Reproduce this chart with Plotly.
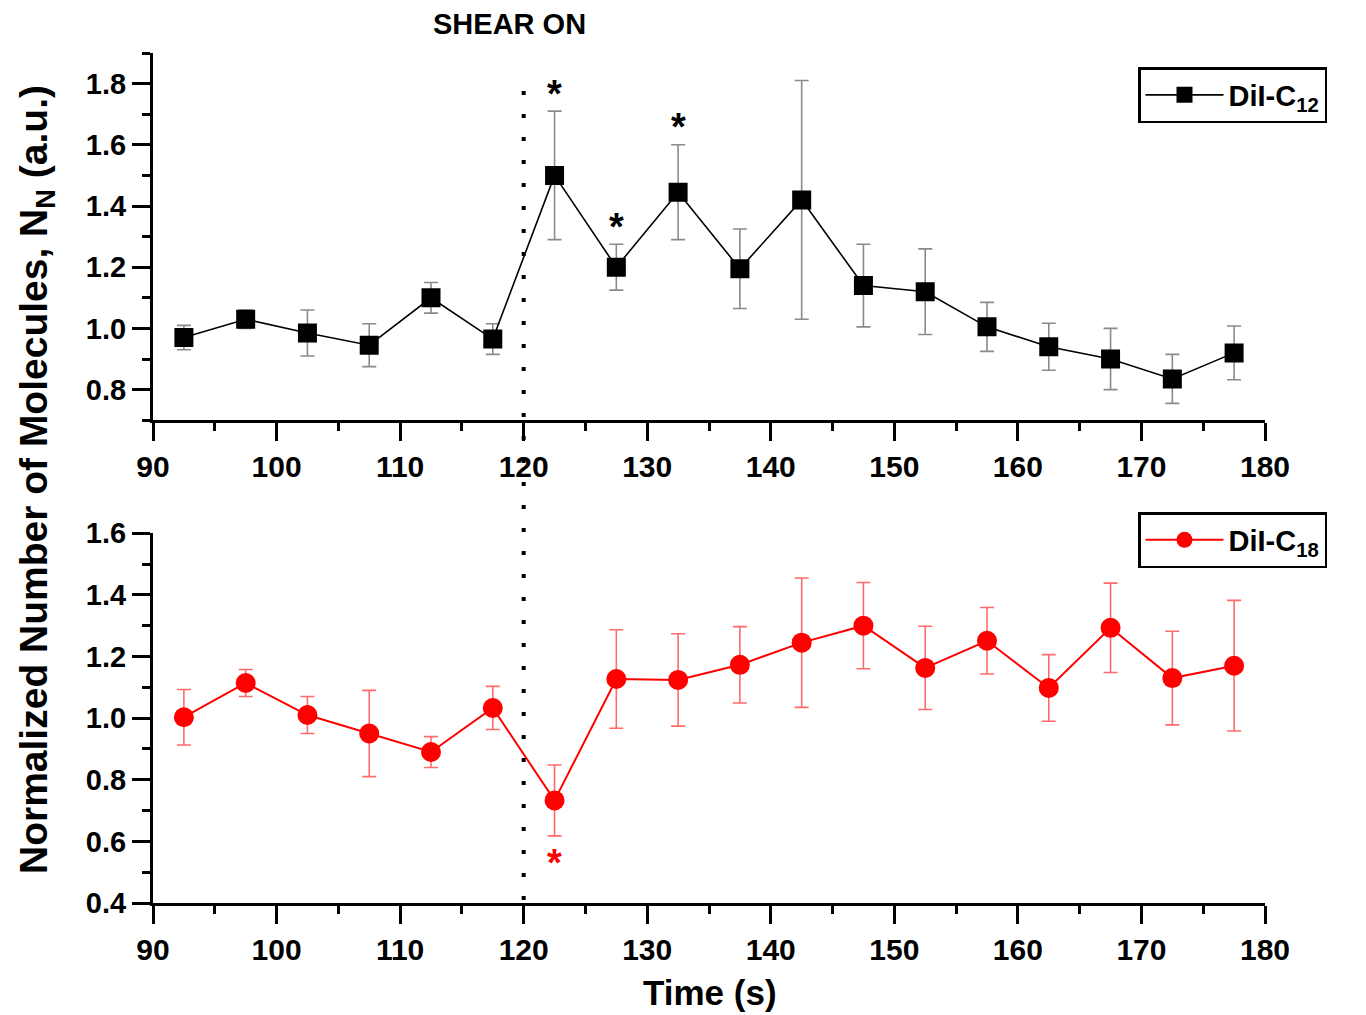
import plotly.graph_objects as go

# ---- data ----
time_s = [92.5, 97.5, 102.5, 107.5, 112.5, 117.5, 122.5, 127.5, 132.5,
          137.5, 142.5, 147.5, 152.5, 157.5, 162.5, 167.5, 172.5, 177.5]

c12_mean = [0.97, 1.03, 0.985, 0.945, 1.10, 0.965, 1.50, 1.20, 1.445,
            1.195, 1.42, 1.14, 1.12, 1.005, 0.94, 0.90, 0.835, 0.92]
c12_err = [0.04, 0.03, 0.075, 0.07, 0.05, 0.05, 0.21, 0.075, 0.155,
           0.13, 0.39, 0.135, 0.14, 0.08, 0.077, 0.10, 0.08, 0.088]

c18_mean = [1.003, 1.114, 1.01, 0.95, 0.89, 1.033, 0.733, 1.127, 1.124,
            1.173, 1.245, 1.30, 1.163, 1.251, 1.098, 1.293, 1.13, 1.17]
c18_err = [0.09, 0.044, 0.06, 0.14, 0.05, 0.07, 0.115, 0.16, 0.15,
           0.124, 0.21, 0.14, 0.135, 0.108, 0.108, 0.145, 0.152, 0.212]

# significance markers (x, y) in data coordinates
sig_c12 = [(122.5, 1.767), (127.5, 1.333), (132.5, 1.657)]
sig_c18 = [(122.5, 0.53)]

shear_time = 120
FONT = "Liberation Sans, Arial, sans-serif"

# page pixel -> paper helpers (plot area spans x 153..1265, y 53..903 on the page)
def px(x):
    return (x - 153) / 1112

def py(y):
    return (903 - y) / 850

fig = go.Figure()

fig.add_trace(go.Scatter(
    x=time_s, y=c12_mean, mode="lines+markers", name="DiI-C<sub>12</sub>",
    line=dict(color="black", width=1.6),
    marker=dict(symbol="square", size=19, color="black"),
    error_y=dict(type="data", array=c12_err, color="#8a8a8a", thickness=1.6, width=7),
    xaxis="x", yaxis="y", legend="legend",
))
fig.add_trace(go.Scatter(
    x=time_s, y=c18_mean, mode="lines+markers", name="DiI-C<sub>18</sub>",
    line=dict(color="#ff0000", width=2),
    marker=dict(symbol="circle", size=20, color="#ff0000"),
    error_y=dict(type="data", array=c18_err, color="#ff6b6b", thickness=1.6, width=7),
    xaxis="x2", yaxis="y2", legend="legend2",
))

axis_common = dict(
    showline=True, linewidth=3, linecolor="black", mirror=False,
    ticks="outside", ticklen=18, tickwidth=3, tickcolor="black",
    showgrid=False, zeroline=False,
)
xfont = dict(family=FONT, size=30, color="black", weight="bold")
yfont = dict(family=FONT, size=29, color="black", weight="bold")
xminor = dict(ticks="outside", ticklen=8, tickwidth=3, dtick=5, tickcolor="black")
yminor = dict(ticks="outside", ticklen=8, tickwidth=3, dtick=0.1, tickcolor="black")
legfont = dict(family=FONT, size=29, color="black", weight="bold")

fig.update_layout(
    width=1350, height=1007,
    margin=dict(l=145, r=93, t=45, b=112),
    paper_bgcolor="white", plot_bgcolor="white",
    showlegend=True,
    xaxis=dict(domain=[0, 1], anchor="y", range=[90, 180], dtick=10,
               tickfont=xfont, minor=xminor, **axis_common),
    yaxis=dict(domain=[0.568, 1], anchor="x", range=[0.7, 1.9], tick0=0.8, dtick=0.2,
               tickformat=".1f", tickfont=yfont, minor=yminor, **axis_common),
    xaxis2=dict(domain=[0, 1], anchor="y2", range=[90, 180], dtick=10,
                tickfont=xfont, minor=xminor, **axis_common),
    yaxis2=dict(domain=[0, 0.435], anchor="x2", range=[0.4, 1.6], tick0=0.4, dtick=0.2,
                tickformat=".1f", tickfont=yfont, minor=yminor, **axis_common),
    legend=dict(x=px(1138), y=py(67), xanchor="left", yanchor="top",
                bordercolor="black", borderwidth=2.5, bgcolor="white",
                font=legfont, itemwidth=78),
    legend2=dict(x=px(1138), y=py(512), xanchor="left", yanchor="top",
                 bordercolor="black", borderwidth=2.5, bgcolor="white",
                 font=legfont, itemwidth=78),
)

# vertical dotted "shear on" line across both panels
fig.add_shape(type="line", xref="x", yref="paper", x0=shear_time, x1=shear_time,
              y0=py(900), y1=py(76), line=dict(color="black", width=4, dash="4px,19px"))

annotations = [
    dict(text="<b>SHEAR ON</b>", xref="paper", yref="paper", x=px(509), y=py(24),
         xanchor="center", yanchor="middle", showarrow=False,
         font=dict(family=FONT, size=29, color="black")),
    dict(text="<b>Normalized Number of Molecules, N<sub>N</sub> (a.u.)</b>",
         xref="paper", yref="paper", x=px(36), y=py(480),
         xanchor="center", yanchor="middle",
         textangle=-90, showarrow=False,
         font=dict(family=FONT, size=39, color="black")),
    dict(text="<b>Time (s)</b>", xref="paper", yref="paper", x=px(710), y=py(992),
         xanchor="center", yanchor="middle", showarrow=False,
         font=dict(family=FONT, size=35, color="black")),
]
for sx, sy in sig_c12:
    annotations.append(dict(text="<b>*</b>", x=sx, y=sy, xref="x", yref="y",
                            xanchor="center", yanchor="middle",
                            showarrow=False, font=dict(family=FONT, size=38, color="black")))
for sx, sy in sig_c18:
    annotations.append(dict(text="<b>*</b>", x=sx, y=sy, xref="x2", yref="y2",
                            xanchor="center", yanchor="middle",
                            showarrow=False, font=dict(family=FONT, size=38, color="#ff0000")))
fig.update_layout(annotations=annotations)

fig.write_html("out.html")
